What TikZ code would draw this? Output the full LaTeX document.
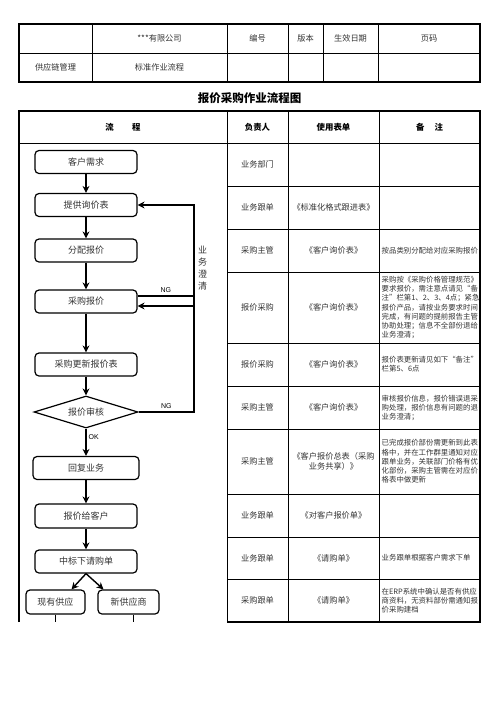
\documentclass[tikz,border=0pt]{standalone}
\usepackage{fontspec}
\setmainfont{Noto Sans CJK SC}
\newfontfamily\latinsf{Liberation Sans}
\usetikzlibrary{shapes.geometric,arrows.meta}
\newcommand{\fx}{86}

\begin{document}
\begin{tikzpicture}[x=1pt, y=-1pt,
    cell/.style={inner sep=0pt, align=center, text=black!80, font=\fontsize{8.2}{10.5}\selectfont},
    head/.style={inner sep=0pt, align=center, font=\bfseries\fontsize{8.4}{10}\selectfont},
    note/.style={anchor=west, inner sep=0pt, align=left, text=black!80, font=\fontsize{7.4}{9.2}\selectfont},
    box/.style={draw, rectangle, rounded corners=4pt, line width=1.2pt, minimum width=102pt, minimum height=23pt, inner sep=0pt, text=black!80, font=\fontsize{9}{11}\selectfont},
    dia/.style={draw, diamond, aspect=3.2, line width=1.2pt, minimum width=104pt, minimum height=32pt, inner sep=0pt, text=black!80, font=\fontsize{9}{11}\selectfont},
    arr/.style={-{Stealth[length=7pt,width=7pt]}, line width=1.4pt},
    tag/.style={inner sep=0pt, font=\latinsf\fontsize{7}{8}\selectfont}]
    \useasboundingbox (0,0) rectangle (496,702);

    % Head table
    \draw[line width=0.6pt] (92,24) -- (92,82) (227,24) -- (227,82) (288,24) -- (288,82)
        (323,24) -- (323,82) (378,24) -- (378,82) (19,53) -- (480,53);
    \draw[line width=1.4pt] (19,24) rectangle (480,82);
    \node[cell] (head-1-2) at (159.5,38.5) {***有限公司};
    \node[cell] (head-1-3) at (257.5,38.5) {编号};
    \node[cell] (head-1-4) at (305.5,38.5) {版本};
    \node[cell] (head-1-5) at (350.5,38.5) {生效日期};
    \node[cell] (head-1-6) at (429,38.5) {页码};
    \node[cell] (head-2-1) at (55.5,67.5) {供应链管理};
    \node[cell] (head-2-2) at (159.5,67.5) {标准作业流程};

    \node[font=\bfseries\fontsize{11.5}{13}\selectfont] (title) at (249.5,98) {报价采购作业流程图};

    % Main table
    \draw[line width=0.6pt] (19,143) -- (480,143) (227,111) -- (227,622) (288,111) -- (288,622)
        (379,111) -- (379,622)
        (227,186) -- (480,186) (227,229) -- (480,229) (227,272) -- (480,272)
        (227,343) -- (480,343) (227,386) -- (480,386) (227,429) -- (480,429)
        (227,494) -- (480,494) (227,537) -- (480,537) (227,579) -- (480,579);
    \draw[line width=1.2pt] (19,622) -- (19,111) -- (480,111) (227,622) -- (480,622);
    \draw[line width=1.8pt] (480,110) -- (480,623);

    \node[head] (col-1) at (123,127) {流\hspace{2.2em}程};
    \node[head] (col-2) at (257.5,127) {负责人};
    \node[head] (col-3) at (333.5,127) {使用表单};
    \node[head] (col-4) at (429.5,127) {备\hspace{1.2em}注};

    % First column: who
    \node[cell] (who-1) at (257.5,164.5) {业务部门};
    \node[cell] (who-2) at (257.5,207.5) {业务跟单};
    \node[cell] (who-3) at (257.5,250.5) {采购主管};
    \node[cell] (who-4) at (257.5,307.5) {报价采购};
    \node[cell] (who-5) at (257.5,364.5) {报价采购};
    \node[cell] (who-6) at (257.5,407.5) {采购主管};
    \node[cell] (who-7) at (257.5,461.5) {采购主管};
    \node[cell] (who-8) at (257.5,515.5) {业务跟单};
    \node[cell] (who-9) at (257.5,558) {业务跟单};
    \node[cell] (who-10) at (257.5,600.5) {采购跟单};

    % Second column: forms
    \node[cell] (form-2) at (333.5,207.5) {《标准化格式跟进表》};
    \node[cell] (form-3) at (333.5,250.5) {《客户询价表》};
    \node[cell] (form-4) at (333.5,307.5) {《客户询价表》};
    \node[cell] (form-5) at (333.5,364.5) {《客户询价表》};
    \node[cell] (form-6) at (333.5,407.5) {《客户询价表》};
    \node[cell] (form-7) at (333.5,461.5) {《客户报价总表（采购\\业务共享）》};
    \node[cell] (form-8) at (333.5,515.5) {《对客户报价单》};
    \node[cell] (form-9) at (333.5,558) {《请购单》};
    \node[cell] (form-10) at (333.5,600.5) {《请购单》};

    % Third column: notes
    \node[note] (note-3) at (381.5,250.5) {按品类别分配给对应采购报价};
    \node[note] (note-4) at (381.5,307.5) {采购按《采购价格管理规范》\\要求报价，需注意点请见“备\\注”栏第1、2、3、4点；紧急\\报价产品，请按业务要求时间\\完成，有问题的提前报告主管\\协助处理；信息不全部份退给\\业务澄清；};
    \node[note] (note-5) at (381.5,364) {报价表更新请见如下“备注”\\栏第5、6点};
    \node[note] (note-6) at (381.5,408) {审核报价信息，报价错误退采\\购处理，报价信息有问题的退\\业务澄清；};
    \node[note] (note-7) at (381.5,461.5) {已完成报价部份需更新到此表\\格中，并在工作群里通知对应\\跟单业务，关联部门价格有优\\化部份，采购主管需在对应价\\格表中做更新};
    \node[note] (note-9) at (381.5,558) {业务跟单根据客户需求下单};
    \node[note] (note-10) at (381.5,600.5) {在ERP系统中确认是否有供应\\商资料，无资料部份需通知报\\价采购建档};

    % Flow
    \node[box] (box-1) at (\fx,162) {客户需求};
    \node[box] (box-2) at (\fx,205) {提供询价表};
    \node[box] (box-3) at (\fx,250.5) {分配报价};
    \node[box] (box-4) at (\fx,301.5) {采购报价};
    \node[box] (box-5) at (\fx,364.5) {采购更新报价表};
    \node[dia] (dia-1) at (\fx,412) {报价审核};
    \node[box, minimum width=106pt] (box-6) at (\fx,468) {回复业务};
    \node[box, minimum height=24pt] (box-7) at (\fx,516) {报价给客户};
    \node[box] (box-8) at (\fx,561.5) {中标下请购单};
    \node[box, minimum width=59pt, minimum height=24pt] (box-9) at (55.5,602) {现有供应};
    \node[box, minimum width=61pt, minimum height=24pt] (box-10) at (128.5,602) {新供应商};
    \coordinate (back) at (194,412);
    \coordinate (flow-end) at (0,622);

    \draw[arr] (box-1) -- (box-2);
    \draw[arr] (box-2) -- (box-3);
    \draw[arr] (box-3) -- (box-4);
    \draw[arr] (box-4) -- (box-5);
    \draw[arr] (box-5) -- (dia-1);
    \draw[arr] (dia-1) -- node[tag, right=2pt, pos=0.3] (ok) {OK} (box-6);
    \draw[arr] (box-6) -- (box-7);
    \draw[arr] (box-7) -- (box-8);
    \draw[arr] (box-8.south) -- ([xshift=16pt]box-9.north);
    \draw[arr] (box-8.south) -- ([xshift=-25pt]box-10.north);
    \draw[line width=1.2pt] (box-9) -- (box-9 |- flow-end);
    \draw[line width=1.2pt] (box-10.south) ++(5pt,0) -- ([xshift=5pt]box-10.south |- flow-end);

    % NG loops
    \draw[arr] (dia-1.east) -- node[tag, above=3pt] (ng-2) {NG} (back) |- (box-2.east);
    \draw[line width=1.2pt] ([yshift=5.5pt]box-4.east) -- node[tag, above=3pt] (ng-1) {NG} ([yshift=5.5pt]box-4.east -| back);
    \draw[arr] ([yshift=-4.5pt]box-4.east -| back) -- ([yshift=-4.5pt]box-4.east);
    \node[cell, font=\fontsize{9}{12}\selectfont] (clarify) at (202.5,268) {业\\务\\澄\\清};
\end{tikzpicture}
\end{document}
